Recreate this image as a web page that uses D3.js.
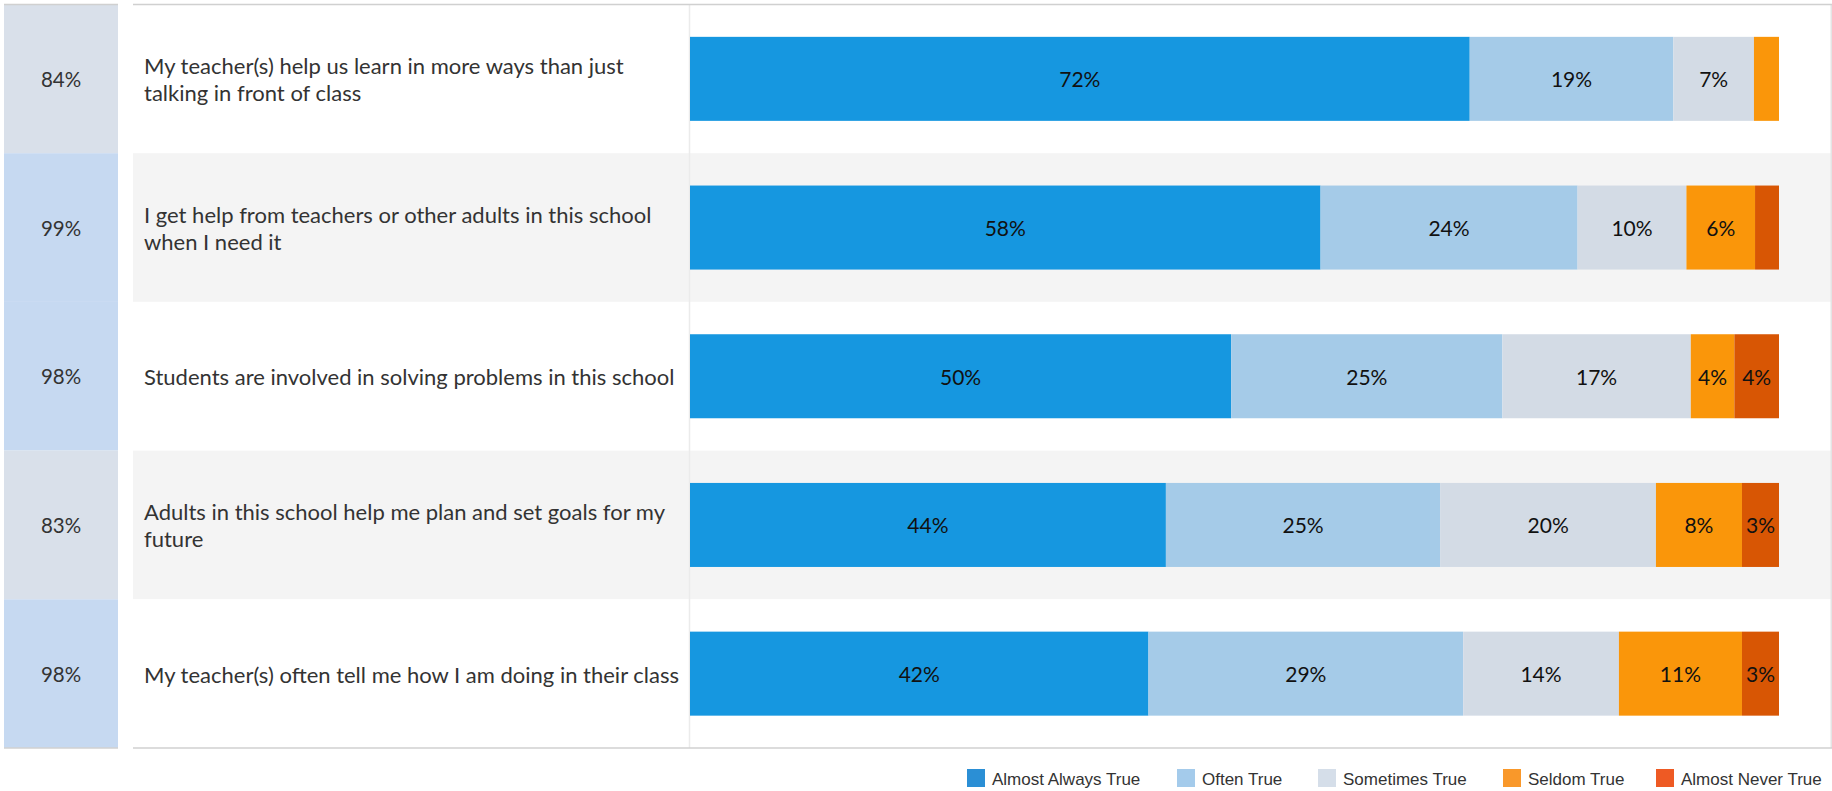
<!DOCTYPE html>
<html>
<head>
<meta charset="utf-8">
<script src="https://cdn.jsdelivr.net/npm/d3@7/dist/d3.min.js"></script>
<style>
  html, body { margin: 0; padding: 0; background: #fff; }
  svg { display: block; }
</style>
</head>
<body>
<svg id="chart" width="1832" height="791"></svg>
<script>
// ---------------- DATA ----------------
const questions = [
  "My teacher(s) help us learn in more ways than just talking in front of class",
  "I get help from teachers or other adults in this school when I need it",
  "Students are involved in solving problems in this school",
  "Adults in this school help me plan and set goals for my future",
  "My teacher(s) often tell me how I am doing in their class"
];
const questionLines = [
  ["My teacher(s) help us learn in more ways than just", "talking in front of class"],
  ["I get help from teachers or other adults in this school", "when I need it"],
  ["Students are involved in solving problems in this school"],
  ["Adults in this school help me plan and set goals for my", "future"],
  ["My teacher(s) often tell me how I am doing in their class"]
];
const responseRate = [84, 99, 98, 83, 98];

const categories = ["Almost Always True", "Often True", "Sometimes True", "Seldom True", "Almost Never True"];
const almostAlways = [71.6, 57.9, 49.7, 43.7, 42.1];
const often        = [18.7, 23.6, 24.9, 25.2, 28.9];
const sometimes    = [7.4, 10.0, 17.3, 19.8, 14.3];
const seldom       = [2.3, 6.3, 4.0, 7.9, 11.3];
const almostNever  = [0.0, 2.2, 4.1, 3.4, 3.4];
const xDomain = [0, 100];

// ---------------- STYLE ----------------
const barColors    = ["#1697e0", "#a5cbe8", "#d3dbe5", "#fa960a", "#d85604"];
const legendColors = ["#2b8fd5", "#a4cbeb", "#d5dee9", "#f9982a", "#ee5a24"];
const W = 1832, H = 791;
const yTop = 4.5, yBottom = 748;
const labelPanelX = 133, dividerX = 689.5;
const barX0 = 690, barX1 = 1779;
const textFont = "Lato, 'Open Sans', sans-serif";

const seriesArrays = [almostAlways, often, sometimes, seldom, almostNever];
const table = questions.map((q, i) => {
  const row = { question: q, lines: questionLines[i], rate: responseRate[i] };
  categories.forEach((c, j) => row[c] = seriesArrays[j][i]);
  return row;
});

const svg = d3.select("#chart");

const y = d3.scaleBand().domain(questions).range([yTop, yBottom]).padding(0);
const x = d3.scaleLinear().domain(xDomain).range([barX0, barX1]);
const color = d3.scaleOrdinal().domain(categories).range(barColors);
const rateColor = d3.scaleThreshold().domain([90]).range(["#d9e0ea", "#c6d9f1"]);

const barH = y.bandwidth() * 0.565;
const barOff = (y.bandwidth() - barH) / 2;

// row banding
svg.append("g").selectAll("rect").data(table).join("rect")
  .attr("x", labelPanelX).attr("width", W - labelPanelX)
  .attr("y", d => y(d.question)).attr("height", y.bandwidth())
  .attr("fill", (d, i) => i % 2 === 1 ? "#f4f4f4" : "#ffffff");

// left response-rate column
const left = svg.append("g");
left.selectAll("rect").data(table).join("rect")
  .attr("x", 4).attr("width", 114)
  .attr("y", d => y(d.question)).attr("height", y.bandwidth())
  .attr("fill", d => rateColor(d.rate));
left.selectAll("text").data(table).join("text")
  .attr("x", 61).attr("y", d => y(d.question) + y.bandwidth() / 2)
  .attr("text-anchor", "middle").attr("dominant-baseline", "central")
  .attr("font-family", textFont).attr("font-size", 20.5).attr("fill", "#333")
  .text(d => d3.format("d")(d.rate) + "%");

// divider
svg.append("line").attr("x1", dividerX).attr("x2", dividerX).attr("y1", yTop).attr("y2", yBottom)
  .attr("stroke", "#ebebeb").attr("stroke-width", 1.5);
svg.append("line").attr("x1", W - 0.75).attr("x2", W - 0.75).attr("y1", yTop).attr("y2", yBottom)
  .attr("stroke", "#e4e4e4").attr("stroke-width", 1.5);

// question labels
const lineH = 27;
const lab = svg.append("g").selectAll("text").data(table).join("text")
  .attr("font-family", textFont).attr("font-size", 22).attr("fill", "#333")
  .attr("dominant-baseline", "central");
lab.each(function(d) {
  const n = d.lines.length;
  const cy = y(d.question) + y.bandwidth() / 2;
  d3.select(this).selectAll("tspan").data(d.lines).join("tspan")
    .attr("x", 144)
    .attr("y", (l, k) => cy + (k - (n - 1) / 2) * lineH)
    .text(l => l);
});

// stacked bars
const stack = d3.stack().keys(categories);
const series = stack(table);
const gs = svg.append("g").selectAll("g").data(series).join("g")
  .attr("fill", s => color(s.key));
gs.selectAll("rect").data(s => s).join("rect")
  .attr("x", d => x(d[0]))
  .attr("width", d => Math.max(0, x(d[1]) - x(d[0])))
  .attr("y", d => y(d.data.question) + barOff)
  .attr("height", barH);

// segment labels
const segLabels = [];
series.forEach(s => s.forEach(d => {
  const v = d[1] - d[0];
  if (v >= 2.5) segLabels.push({ v, cx: (x(d[0]) + x(d[1])) / 2, q: d.data.question });
}));
svg.append("g").selectAll("text").data(segLabels).join("text")
  .attr("x", d => d.cx).attr("y", d => y(d.q) + y.bandwidth() / 2)
  .attr("text-anchor", "middle").attr("dominant-baseline", "central")
  .attr("font-family", textFont).attr("font-size", 21).attr("fill", "#111")
  .text(d => Math.round(d.v) + "%");

// top and bottom rules
[[4, 118], [labelPanelX, W]].forEach(([a, b]) => {
  svg.append("line").attr("x1", a).attr("x2", b).attr("y1", yTop).attr("y2", yTop)
    .attr("stroke", "#d0d0d0").attr("stroke-width", 1.5);
  svg.append("line").attr("x1", a).attr("x2", b).attr("y1", yBottom).attr("y2", yBottom)
    .attr("stroke", "#d0d0d0").attr("stroke-width", 1.5);
});

// legend
const legendX = [967, 1177, 1318, 1503, 1656];
const lg = svg.append("g").selectAll("g").data(categories).join("g")
  .attr("transform", (c, i) => `translate(${legendX[i]},769)`);
lg.append("rect").attr("width", 18).attr("height", 18)
  .attr("fill", (c, i) => legendColors[i]);
lg.append("text").attr("x", 25).attr("y", 10)
  .attr("dominant-baseline", "central")
  .attr("font-family", "'Liberation Sans', Arial, sans-serif").attr("font-size", 17)
  .attr("fill", "#333").text(c => c);
</script>
</body>
</html>
